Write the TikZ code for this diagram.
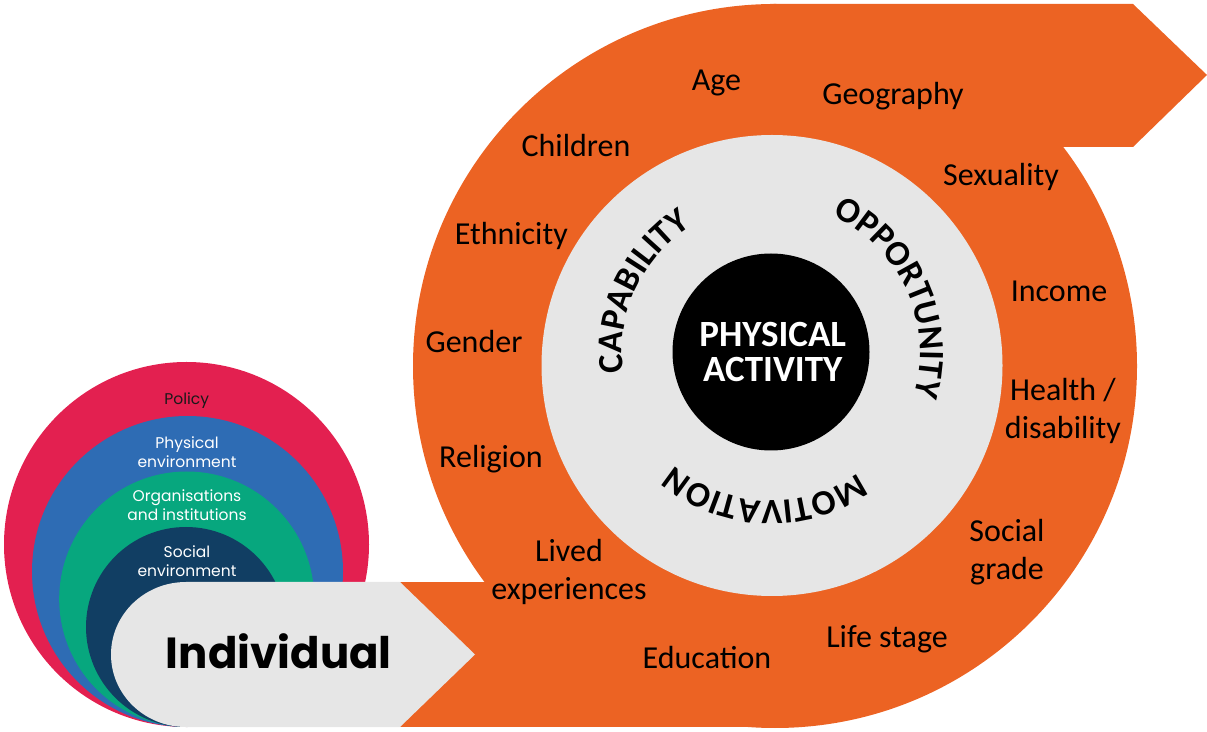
\documentclass[tikz,border=0pt]{standalone}
\usepackage{fontspec}
\setmainfont{Carlito}
\newfontfamily\popfont{Poppins}
\usetikzlibrary{decorations.text}
\definecolor{orng}{HTML}{EC6323}
\definecolor{lgrey}{HTML}{E6E6E6}
\definecolor{pinkred}{HTML}{E32050}
\definecolor{midblue}{HTML}{2E6CB4}
\definecolor{teal}{HTML}{07A77E}
\definecolor{navy}{HTML}{113E63}
\newcommand\arcfont{\bfseries\fontsize{35.5}{35.5}\selectfont}
\tikzset{
  lab/.style={font=\fontsize{32}{38}\selectfont, align=center, anchor=base, inner sep=0pt, text=black},
  ring/.style={font=\popfont\fontsize{15.5}{19}\selectfont, align=center, anchor=base, inner sep=0pt, text=white},
  arctext/.style={decorate, decoration={text along path, text align=center, text={|\arcfont|#1}}}
}
\begin{document}
\begin{tikzpicture}[x=1pt,y=1pt]
\useasboundingbox (0,0) rectangle (1207,731);
% orange swirl
\fill[orng] (775,365) circle[radius=362];
\fill[orng] (770,727) -- (1133,727) -- (1207,656) -- (1133,584) -- (770,584) -- cycle;
\fill[orng] (400,4) rectangle (775,149);
% socio-ecological circles
\fill[pinkred] (186.5,186.5) circle[radius=182.5];
\fill[midblue] (187.5,159.5) circle[radius=155.5];
\fill[teal] (186.7,132) circle[radius=127.5];
\fill[navy] (186,104) circle[radius=100];
% individual arrow
\fill[lgrey] (186,149) -- (400,149) -- (475,76.5) -- (400,4) -- (186,4)
  arc[start angle=270, end angle=90, x radius=75, y radius=72.5] -- cycle;
% COM-B circles
\fill[lgrey] (772,365.5) circle[radius=230.5];
\fill[black] (771,379) circle[radius=98.5];
\node[font=\bfseries\fontsize{37}{35}\selectfont, text=white, align=center, anchor=base, inner sep=0pt] (pa) at (772.7,349) {PHYSICAL\\ACTIVITY};
\coordinate (c) at (771,379);
\path[arctext=CAPABILITY] (c) ++(205:149) arc[start angle=205, end angle=105, radius=149];
\path[arctext=OPPORTUNITY] (c) ++(74.5:149) arc[start angle=74.5, end angle=-25.5, radius=149];
\path[arctext=MOTIVATION] (c) ++(-42.35:149) arc[start angle=-42.35, end angle=-142.35, radius=149];
% ring labels
\node[ring, text=black!90] (policy) at (186.7,326.7) {Policy};
\node[ring] (phys) at (187,263.7) {Physical\\environment};
\node[ring] (org) at (187,210) {Organisations\\and institutions};
\node[ring] (soc) at (187,154.3) {Social\\environment};
\node[font=\popfont\bfseries\fontsize{43.5}{44}\selectfont, anchor=base, inner sep=0pt] (ind) at (278.8,62.7) {Individual};
% orange labels
\node[lab] (age) at (716.5,640) {Age};
\node[lab] (geo) at (893,626) {Geography};
\node[lab] (chi) at (576,574.3) {Children};
\node[lab] (sex) at (1001,545) {Sexuality};
\node[lab] (eth) at (511.3,486) {Ethnicity};
\node[lab] (inc) at (1059,429.3) {Income};
\node[lab] (gen) at (474,378.7) {Gender};
\node[lab] (hea) at (1063,292.7) {Health /\\disability};
\node[lab] (rel) at (491,263.7) {Religion};
\node[lab] (socg) at (1007,151) {Social\\grade};
\node[lab] (liv) at (569,131) {Lived\\experiences};
\node[lab] (life) at (887,84) {Life stage};
\node[lab] (edu) at (707,63) {Education};
\end{tikzpicture}
\end{document}
